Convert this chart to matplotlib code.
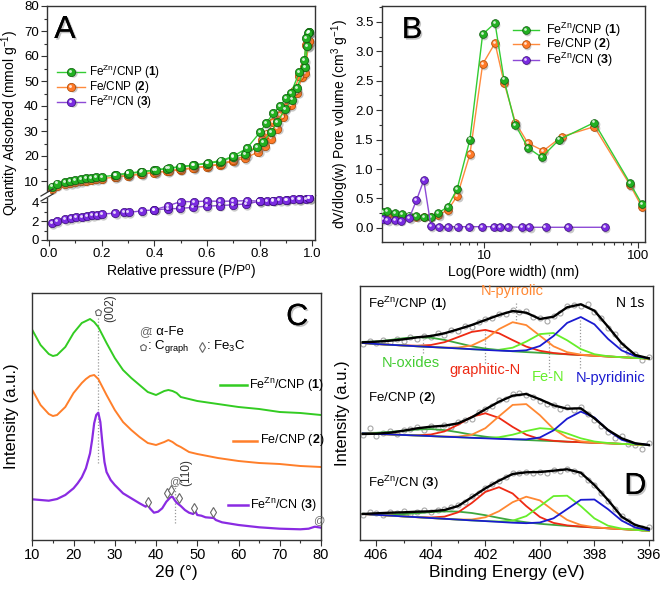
import numpy as np
import matplotlib
matplotlib.use('Agg')
import matplotlib.pyplot as plt
import matplotlib.patheffects as pe
from matplotlib.lines import Line2D
from matplotlib.patches import Rectangle
from matplotlib.transforms import offset_copy
from matplotlib.ticker import MultipleLocator, FormatStrFormatter

plt.rcParams['font.family'] = ['Liberation Sans', 'DejaVu Sans']
plt.rcParams['mathtext.fontset'] = 'custom'
plt.rcParams['mathtext.rm'] = 'Liberation Sans'
plt.rcParams['mathtext.it'] = 'Liberation Sans:italic'
plt.rcParams['mathtext.bf'] = 'Liberation Sans:bold'
plt.rcParams['lines.solid_joinstyle'] = 'round'

# ---------------- A: N2 isotherms ----------------
g_ads_p = [0.01, 0.03, 0.06, 0.08, 0.10, 0.12, 0.14, 0.16, 0.18, 0.20, 0.25, 0.30, 0.35, 0.40, 0.45, 0.50,
           0.55, 0.60, 0.65, 0.70, 0.745, 0.792, 0.815, 0.843, 0.868, 0.897, 0.925, 0.942, 0.973, 0.982, 0.99]
g_ads_v = [7.8, 9.0, 9.6, 10.0, 10.4, 10.8, 11.1, 11.3, 11.6, 11.7, 12.3, 13.0, 13.6, 14.3, 15.0, 15.6,
           16.3, 17.0, 17.8, 19.6, 20.8, 23.5, 25.7, 29.5, 33.5, 38.7, 42.6, 47.1, 55.7, 64.0, 69.5]
g_des_p = [0.99, 0.986, 0.977, 0.971, 0.952, 0.920, 0.901, 0.878, 0.853, 0.825, 0.802, 0.752, 0.70, 0.655,
           0.603, 0.548, 0.497, 0.455, 0.405, 0.352, 0.302, 0.255]
g_des_v = [69.5, 69.3, 67.1, 58.4, 53.7, 45.3, 43.1, 40.0, 37.1, 33.1, 29.5, 23.1, 19.9, 18.2,
           17.2, 16.3, 15.8, 15.1, 14.4, 13.8, 13.1, 12.5]

o_ads_p = [0.01, 0.03, 0.06, 0.08, 0.10, 0.12, 0.14, 0.16, 0.18, 0.20, 0.25, 0.30, 0.35, 0.40, 0.45, 0.50,
           0.55, 0.60, 0.65, 0.70, 0.745, 0.796, 0.82, 0.843, 0.868, 0.891, 0.919, 0.944, 0.961, 0.973, 0.986, 0.99]
o_ads_v = [7.0, 8.2, 8.8, 9.2, 9.6, 9.9, 10.2, 10.5, 10.7, 11.0, 11.5, 12.1, 12.7, 13.3, 13.9, 14.5,
           15.1, 15.8, 16.6, 18.0, 19.1, 21.7, 24.0, 27.0, 31.0, 35.7, 40.4, 45.3, 51.7, 53.1, 64.4, 66.0]
o_des_p = [0.99, 0.977, 0.968, 0.952, 0.93, 0.90, 0.878, 0.853, 0.83, 0.81, 0.75, 0.70, 0.655, 0.603,
           0.548, 0.497, 0.455, 0.405, 0.352, 0.302, 0.255]
o_des_v = [66.0, 64.4, 55.5, 52.0, 46.0, 39.5, 36.5, 33.5, 29.0, 26.5, 20.3, 18.3, 16.9, 16.0,
           15.3, 14.7, 14.1, 13.5, 12.9, 12.3, 11.7]

p_ads_p = [0.01, 0.029, 0.061, 0.083, 0.103, 0.124, 0.143, 0.165, 0.181, 0.20, 0.251, 0.285, 0.302, 0.352,
           0.40, 0.451, 0.498, 0.549, 0.60, 0.65, 0.698, 0.749, 0.80, 0.828, 0.853, 0.876, 0.904, 0.929,
           0.954, 0.977, 0.99]
p_ads_v = [1.80, 2.00, 2.18, 2.31, 2.38, 2.45, 2.52, 2.59, 2.66, 2.73, 2.83, 2.93, 2.90, 3.07,
           3.18, 3.28, 3.32, 3.45, 3.56, 3.63, 3.70, 3.80, 4.07, 4.14, 4.14, 4.20, 4.25, 4.28,
           4.32, 4.35, 4.38]
p_des_p = [0.99, 0.95, 0.90, 0.85, 0.80, 0.751, 0.698, 0.65, 0.60, 0.55, 0.50, 0.451, 0.40]
p_des_v = [4.38, 4.30, 4.22, 4.15, 4.10, 4.14, 4.10, 4.08, 4.10, 4.04, 4.04, 3.60, 3.18]

# ---------------- B: pore size distribution ----------------
g_w = [2.2, 2.36, 2.64, 2.94, 3.27, 3.65, 4.07, 4.53, 5.05, 5.82, 6.7, 8.11, 9.81, 11.8, 13.5, 16.0,
       19.3, 23.7, 30.8, 52, 88.7, 105.7]
g_dv = [0.27, 0.28, 0.25, 0.23, 0.21, 0.20, 0.19, 0.19, 0.25, 0.36, 0.66, 1.50, 3.29, 3.48, 2.52, 1.75,
        1.36, 1.20, 1.50, 1.79, 0.76, 0.41]
o_w = [2.2, 2.36, 2.64, 2.94, 3.27, 3.65, 4.07, 4.53, 5.05, 5.82, 6.7, 8.11, 9.81, 11.8, 13.5, 16.0,
       19.3, 24.3, 32, 52, 88.7, 105.7]
o_dv = [0.22, 0.22, 0.21, 0.20, 0.19, 0.19, 0.19, 0.19, 0.22, 0.30, 0.54, 1.25, 2.78, 3.14, 2.47, 1.79,
        1.44, 1.31, 1.55, 1.72, 0.73, 0.36]
p_w = [2.2, 2.36, 2.64, 2.88, 3.27, 3.65, 4.07, 4.53, 5.13, 5.86, 6.74, 8.03, 9.66, 11.7, 12.7, 14.4,
       17.6, 19.7, 25.1, 35.2, 61.1]
p_dv = [0.15, 0.13, 0.13, 0.12, 0.16, 0.47, 0.81, 0.03, 0.02, 0.02, 0.02, 0.02, 0.02, 0.02, 0.02, 0.02,
        0.01, 0.01, 0.01, 0.01, 0.01]

# ---------------- C: XRD ----------------
xrd_tt = [10, 12, 14, 15, 16, 18, 20, 22, 23, 24, 25, 26, 27, 28, 30, 32, 34, 36, 38, 40, 42, 43, 44, 45,
          46, 48, 50, 55, 60, 65, 70, 75, 80]
xrd_1 = [210, 195, 186, 184, 185, 193, 207, 217, 219, 221, 218, 213, 205, 197, 182, 170, 162, 155, 148, 145,
         149, 150, 149, 147, 143, 141, 139, 136, 133, 131, 128, 127, 125]
xrd_2 = [150, 135, 126, 124, 125, 133, 147, 157, 161, 164, 165, 161, 153, 145, 130, 118, 110, 103, 97, 95,
         98, 100, 98, 95, 93, 88, 86, 82, 79, 77, 76, 74, 73]
xrd3_tt = [10, 12, 14, 16, 18, 20, 21, 22, 23, 24, 24.5, 25, 25.5, 26, 26.5, 27, 27.5, 28, 29, 30, 32, 34, 36,
           37.5, 38, 38.5, 39.5, 40.5, 41.5, 42.5, 43.5, 44, 44.5, 45, 46, 47, 48, 49, 49.5, 50, 51, 52, 54,
           54.5, 56, 60, 65, 70, 75, 77, 78.5, 80]
xrd_3 = [40.7, 40, 39.3, 41, 45, 51.7, 56.7, 62.7, 71.7, 86.7, 100, 116.7, 125, 127.3, 118, 96.7, 78, 68, 60,
         55, 46.7, 41.7, 36.7, 33.3, 35.7, 31.7, 27.3, 28.3, 31.7, 38.3, 42.7, 43.3, 40, 37.3, 34, 30, 27.3,
         26, 29, 25, 24.3, 22.7, 22, 20, 17.7, 15, 12.7, 11.3, 10.7, 11.3, 13.3, 12.3]
fe3c_tt = [38.1, 42.6, 43.6, 45.65, 49.2, 53.9]
fe3c_I = [37.7, 47.3, 50, 41.7, 31.7, 28.3]

# ---------------- D: N 1s XPS (0.5 eV grid 406.5 -> 396.0) ----------------
be = np.arange(406.5, 395.99, -0.5)
be_raw = np.arange(406.5, 395.99, -0.25)

bg1 = [197, 196, 195.2, 194.5, 193.7, 193, 192.3, 191.6, 190.8, 190.1, 189.4, 188.6, 187.9, 187.2, 186.4,
       185.7, 185, 184.3, 183.5, 182.8, 182.1, 181.3]
oxide1 = [1.1, 2.5, 4.8, 7.3, 9.1, 9.3, 7.8, 5.3, 2.9, 1.3, 0.5, 0.1, 0, 0, 0, 0, 0, 0, 0, 0, 0, 0]
graph1 = [0, 0, 0, 0.1, 0.6, 2.0, 5.5, 11.3, 17.3, 20, 17.3, 11.3, 5.5, 2.0, 0.6, 0.1, 0, 0, 0, 0, 0, 0]
pyrr1 = [0, 0, 0, 0, 0, 0, 0.1, 0.9, 3.7, 10.8, 21.5, 29.2, 27.0, 17.1, 7.3, 2.1, 0.4, 0, 0, 0, 0, 0]
fen1 = [0, 0, 0, 0, 0, 0, 0, 0, 0, 0.1, 0.8, 3.7, 10.5, 18.7, 20.6, 14.0, 5.9, 1.5, 0.25, 0, 0, 0]
pyri1 = [0, 0, 0, 0, 0, 0, 0, 0, 0, 0, 0, 0.3, 1.8, 6.8, 17.6, 31.4, 38, 31.4, 17.6, 6.8, 1.8, 0.3]
env1 = [197.7, 198.3, 199.3, 200.7, 202.7, 204, 206.7, 210.7, 215, 220, 225, 229, 227.3, 221, 223.3, 232.7,
        235.7, 229.3, 213.3, 196.7, 185, 181.7]
raw1 = [196, 199.5, 197, 200, 198, 201.5, 199.5, 203.5, 201, 204.5, 203, 207.5, 205, 210, 209, 214.5, 213.5,
        218.5, 221.5, 222, 226.5, 226, 230.5, 228, 229, 223.5, 222, 219.5, 224.5, 227, 234, 235, 234, 236.5,
        228, 222, 212, 206, 195, 188.5, 186.5, 180, 183]

bg2 = [106.7, 106.1, 105.6, 105.0, 104.5, 103.9, 103.3, 102.8, 102.2, 101.7, 101.1, 100.6, 100.0, 99.4, 98.9,
       98.3, 97.8, 97.2, 96.7, 96.1, 95.6, 95.0]
oxide2 = [0.4, 1.1, 2.5, 4.3, 6.0, 7.0, 6.6, 5.0, 3.1, 1.6, 0.7, 0.2, 0, 0, 0, 0, 0, 0, 0, 0, 0, 0]
graph2 = [0, 0, 0, 0, 0.3, 1.6, 5.3, 12.5, 21.0, 25, 21.0, 12.5, 5.3, 1.6, 0.3, 0, 0, 0, 0, 0, 0, 0]
pyrr2 = [0, 0, 0, 0, 0, 0, 0.1, 0.6, 3.1, 10.1, 22.6, 34.5, 35.9, 25.4, 12.2, 4.0, 0.9, 0.1, 0, 0, 0, 0]
fen2 = [0, 0, 0, 0, 0, 0, 0, 0, 0, 0.4, 1.7, 4.7, 9.0, 12.4, 11.9, 8.2, 3.9, 1.3, 0.3, 0, 0, 0]
pyri2 = [0, 0, 0, 0, 0, 0, 0, 0, 0, 0, 0, 0.1, 0.6, 3.1, 10.7, 23.0, 30.6, 25.3, 12.9, 4.1, 0.8, 0.1]
env2 = [106, 106.3, 107.3, 109.3, 111.7, 113.3, 114.3, 116.7, 122.7, 130.7, 138.3, 144.3, 146, 140.7, 134.7,
        131.3, 131.7, 121.7, 110, 101.7, 96.7, 95]
raw2 = [105, 112, 104.5, 107, 109, 106, 110.5, 111, 113.5, 110, 114.5, 112, 115, 113, 118, 120.5, 121, 128.5,
        131, 134, 140, 141, 146, 147.5, 145, 143.5, 139, 136, 135.5, 131.5, 133.5, 130.5, 133, 126, 120, 114,
        108.5, 102, 104, 96, 95.5, 91, 97]

bg3 = [26.0, 25.2, 24.4, 23.6, 22.8, 22.0, 21.2, 20.4, 19.6, 18.9, 18.1, 17.3, 16.5, 15.7, 14.9, 14.1, 13.3,
       12.5, 11.7, 10.9, 10.1, 9.3]
oxide3 = [0.2, 0.5, 1.2, 2.3, 4.0, 5.9, 7.4, 8, 7.4, 5.9, 4.0, 2.3, 1.2, 0.5, 0.2, 0, 0, 0, 0, 0, 0, 0]
graph3 = [0, 0, 0, 0, 0.1, 0.5, 2.2, 7.3, 17.4, 29.2, 34.7, 29.2, 17.4, 7.3, 2.2, 0.5, 0.1, 0, 0, 0, 0, 0]
pyrr3 = [0, 0, 0, 0, 0, 0, 0, 0.1, 0.9, 3.8, 10.7, 20.5, 26.8, 23.9, 14.5, 6.0, 1.7, 0.3, 0, 0, 0, 0]
fen3 = [0, 0, 0, 0, 0, 0, 0, 0, 0, 0, 0.4, 2.0, 7.4, 18.1, 29.0, 30.2, 20.6, 9.1, 2.6, 0.5, 0, 0]
pyri3 = [0, 0, 0, 0, 0, 0, 0, 0, 0, 0, 0, 0, 0.3, 1.8, 6.8, 16.8, 26.9, 28.0, 19.1, 8.5, 2.4, 0.5]
env3 = [26, 26.7, 27.3, 27.7, 28.3, 28.7, 30, 34, 42.7, 51.7, 59.3, 66, 67.7, 68, 69.3, 70.7, 67.3, 55, 40,
        23.3, 15, 11.3]
raw3 = [25.5, 28, 27, 25, 28.5, 27, 29, 26.5, 28, 30, 28, 30.5, 31, 33, 35.5, 38, 44.5, 47, 52, 56, 59, 63.5,
        67.5, 67, 68.5, 67, 68.5, 67.5, 70, 69, 71.5, 69, 66, 60, 55.5, 47, 39.5, 31, 24, 19, 14.5, 12, 13]

labels = [r'Fe$^{\mathregular{Zn}}$/CNP ($\mathbf{1}$)', r'Fe/CNP ($\mathbf{2}$)',
          r'Fe$^{\mathregular{Zn}}$/CN ($\mathbf{3}$)']

# colours
G_FACE, G_EDGE, G_LINE = '#22b022', '#0e5c0e', '#33cc33'
O_FACE, O_EDGE, O_LINE = '#ff7a29', '#a84600', '#ff8a3d'
P_FACE, P_EDGE, P_LINE = '#7a2be0', '#3a0d7a', '#8d4ad6'
FRAME = '#333333'

fig = plt.figure(figsize=(6.61, 5.91), dpi=100)


def box(l, t, r, b):
    return [l / 661, 1 - b / 591, (r - l) / 661, (b - t) / 591]


def balls(ax, x, y, face, edge, ms, z, trans=None):
    base = ax.transData if trans is None else trans
    sh = offset_copy(base, fig=fig, x=1.0, y=-1.2, units='points')
    hl = offset_copy(base, fig=fig, x=-0.8, y=0.8, units='points')
    ax.plot(x, y, 'o', ls='none', ms=ms, mfc='#666666', mec='none', alpha=0.35, transform=sh, zorder=z)
    ax.plot(x, y, 'o', ls='none', ms=ms, mfc=face, mec=edge, mew=0.5, transform=base, zorder=z + 0.1)
    ax.plot(x, y, 'o', ls='none', ms=ms * 0.35, mfc='white', mec='none', alpha=0.8, transform=hl,
            zorder=z + 0.2)


def style(ax, size):
    for s in ax.spines.values():
        s.set_color(FRAME)
        s.set_linewidth(1.0)
    ax.tick_params(which='both', direction='out', color=FRAME, width=0.8, labelsize=size, pad=2)
    ax.tick_params(which='major', length=4)
    ax.tick_params(which='minor', length=2.5)


shadow_fx = [pe.withSimplePatchShadow(offset=(1.2, -1.2), shadow_rgbFace='#888888', alpha=0.5), pe.Normal()]

# ================= Panel A =================
axA = fig.add_axes(box(47, 6, 315, 195))
axA2 = fig.add_axes(box(47, 195, 315, 240))
for ax in (axA, axA2):
    style(ax, 9.5)
    ax.set_xlim(-0.008, 1.011)
axA.set_ylim(4.4, 80)
axA2.set_ylim(0, 4.74)
axA.spines['bottom'].set_visible(False)
axA2.spines['top'].set_visible(False)
axA.tick_params(axis='x', which='both', bottom=False, labelbottom=False)
axA.yaxis.set_major_locator(MultipleLocator(10))
axA.yaxis.set_minor_locator(MultipleLocator(5))
axA2.yaxis.set_major_locator(MultipleLocator(2))
axA2.yaxis.set_minor_locator(MultipleLocator(1))
axA2.xaxis.set_major_locator(MultipleLocator(0.2))
axA2.xaxis.set_minor_locator(MultipleLocator(0.1))
axA2.xaxis.set_major_formatter(FormatStrFormatter('%.1f'))

for px, py in ((o_ads_p, o_ads_v), (o_des_p, o_des_v)):
    axA.plot(px, py, '-', color=O_LINE, lw=1.0, zorder=2)
    balls(axA, px, py, O_FACE, O_EDGE, 6, 2.5)
for px, py in ((g_ads_p, g_ads_v), (g_des_p, g_des_v)):
    axA.plot(px, py, '-', color=G_LINE, lw=1.0, zorder=3)
    balls(axA, px, py, G_FACE, G_EDGE, 6, 3.5)
for px, py in ((p_ads_p, p_ads_v), (p_des_p, p_des_v)):
    axA2.plot(px, py, '-', color=P_LINE, lw=1.0, zorder=2)
    balls(axA2, px, py, P_FACE, P_EDGE, 6, 2.5)

for yy, lab, c in zip([0.652, 0.573, 0.494], labels,
                      [(G_LINE, G_FACE, G_EDGE), (O_LINE, O_FACE, O_EDGE), (P_LINE, P_FACE, P_EDGE)]):
    axA.plot([0.037, 0.142], [yy, yy], '-', color=c[0], lw=1.0, transform=axA.transAxes, zorder=4)
    balls(axA, [0.09], [yy], c[1], c[2], 6, 4.5, trans=axA.transAxes)
    axA.text(0.157, yy, lab, transform=axA.transAxes, fontsize=8.5, va='center', ha='left')
axA.text(0.067, 0.873, 'A', transform=axA.transAxes, fontsize=23, ha='center', va='center',
         path_effects=shadow_fx)

fig.text(10 / 661, 1 - 123 / 591, r'Quantity Adsorbed (mmol g$^{\mathregular{-1}}$)', rotation=90,
         fontsize=10, ha='center', va='center')
axA2.set_xlabel(r'Relative pressure (P/P$^{\mathregular{o}}$)', fontsize=10, labelpad=2)

# axis break marks
fig.add_artist(Rectangle((44 / 661, 1 - 198 / 591), 6 / 661, 6 / 591, transform=fig.transFigure,
                         facecolor='white', edgecolor='none', zorder=10))
for dy in (0, 5):
    fig.add_artist(Line2D([41 / 661, 53 / 661], [1 - (196 + dy) / 591, 1 - (189 + dy) / 591],
                          transform=fig.transFigure, color=FRAME, lw=0.9, zorder=11))

# ================= Panel B =================
axB = fig.add_axes(box(382, 6, 645, 242))
style(axB, 9.5)
axB.set_xscale('log')
axB.set_xlim(2.18, 111)
axB.set_ylim(-0.24, 3.77)
axB.set_xticks([10, 100])
axB.set_xticklabels(['10', '100'])
axB.set_xticks([3, 4, 5, 6, 7, 8, 9, 20, 30, 40, 50, 60, 70, 80, 90], minor=True)
axB.set_xticklabels([], minor=True)
axB.yaxis.set_major_locator(MultipleLocator(0.5))
axB.yaxis.set_minor_locator(MultipleLocator(0.25))
axB.yaxis.set_major_formatter(FormatStrFormatter('%.1f'))

axB.plot(o_w, o_dv, '-', color=O_LINE, lw=1.0, zorder=2)
balls(axB, o_w, o_dv, O_FACE, O_EDGE, 5.6, 2.5)
axB.plot(g_w, g_dv, '-', color=G_LINE, lw=1.0, zorder=3)
balls(axB, g_w, g_dv, G_FACE, G_EDGE, 5.6, 3.5)
axB.plot(p_w, p_dv, '-', color=P_LINE, lw=1.0, zorder=4)
balls(axB, p_w, p_dv, P_FACE, P_EDGE, 5.6, 4.5)

for yy, lab, c in zip([0.898, 0.838, 0.772], labels,
                      [(G_LINE, G_FACE, G_EDGE), (O_LINE, O_FACE, O_EDGE), (P_LINE, P_FACE, P_EDGE)]):
    axB.plot([0.497, 0.598], [yy, yy], '-', color=c[0], lw=1.0, transform=axB.transAxes, zorder=5)
    balls(axB, [0.547], [yy], c[1], c[2], 5.6, 5.5, trans=axB.transAxes)
    axB.text(0.622, yy, lab, transform=axB.transAxes, fontsize=9, va='center', ha='left')
axB.text(0.114, 0.898, 'B', transform=axB.transAxes, fontsize=22, ha='center', va='center',
         path_effects=shadow_fx)
axB.set_ylabel(r'dV/dlog(w) Pore volume (cm$^{\mathregular{3}}$ g$^{\mathregular{-1}}$)', fontsize=10)
axB.yaxis.set_label_coords(-0.118, 0.5)
axB.set_xlabel('Log(Pore width) (nm)', fontsize=10, labelpad=2)

# ================= Panel C =================
axC = fig.add_axes(box(32.3, 293, 321, 540))
style(axC, 10.5)
axC.set_xlim(10, 80)
axC.set_ylim(0, 247)
axC.set_yticks([])
axC.xaxis.set_major_locator(MultipleLocator(10))
axC.xaxis.set_minor_locator(MultipleLocator(5))

X_G, X_O, X_P = '#33cc22', '#ff7f2a', '#8a2be2'
axC.plot([25.85, 25.85], [77, 223], ls=(0, (1, 1.5)), color='#999999', lw=0.9, zorder=1)
axC.plot([44.6, 44.6], [16.7, 55], ls=(0, (1, 1.5)), color='#999999', lw=0.9, zorder=1)
axC.plot(xrd_tt, xrd_1, color=X_G, lw=1.4, zorder=2)
axC.plot(xrd_tt, xrd_2, color=X_O, lw=1.4, zorder=2)
axC.plot(xrd3_tt, xrd_3, color=X_P, lw=1.6, zorder=2)

axC.plot([25.85], [228.3], 'p', ms=5, mfc='white', mec='#666666', mew=0.8, zorder=3)
axC.text(28.8, 231.7, '(002)', rotation=90, fontsize=8.5, ha='center', va='center', color='#333333')
axC.plot(fe3c_tt, fe3c_I, 'd', ms=5, mfc='white', mec='#666666', mew=0.8, zorder=3)
axC.text(44.6, 59.3, '@', fontsize=8, ha='center', va='center', color='#666666')
axC.text(79.4, 20, '@', fontsize=8, ha='center', va='center', color='#666666')
axC.text(47.3, 67, '(110)', rotation=90, fontsize=8.5, ha='center', va='center', color='#333333')

axC.text(35.9, 208.3, '@', fontsize=8.5, ha='left', va='center', color='#666666')
axC.text(38.4, 208.3, ': \u03b1-Fe', fontsize=9.5, ha='left', va='center')
axC.plot([36.8], [193.3], 'p', ms=5, mfc='white', mec='#666666', mew=0.8)
axC.text(37.9, 193.3, r': C$_{\mathregular{graph}}$', fontsize=9.5, ha='left', va='center')
axC.plot([51.2], [193.3], 'd', ms=5, mfc='white', mec='#666666', mew=0.8)
axC.text(52.0, 193.3, r': Fe$_{\mathregular{3}}$C', fontsize=9.5, ha='left', va='center')

for (x0, x1, xt), yy, lab, c in zip([(55.5, 62.0, 62.6), (58.7, 64.4, 65.2), (57.5, 62.4, 62.9)],
                                    [155, 99.5, 35], labels, [X_G, X_O, X_P]):
    axC.plot([x0, x1], [yy, yy], color=c, lw=1.8)
    axC.text(xt, yy, lab, fontsize=9, ha='left', va='center')
axC.text(74.2, 223, 'C', fontsize=22, ha='center', va='center', path_effects=shadow_fx)
axC.set_ylabel('Intensity (a.u.)', fontsize=12)
axC.yaxis.set_label_coords(-0.045, 0.5)
axC.set_xlabel('2\u03b8 (\u00b0)', fontsize=12.5, labelpad=2)

# ================= Panel D =================
axD = fig.add_axes(box(360, 286, 653, 540))
style(axD, 10.5)
axD.set_xlim(406.6, 395.85)
axD.set_ylim(0, 254)
axD.set_yticks([])
axD.xaxis.set_major_locator(MultipleLocator(2))
axD.xaxis.set_minor_locator(MultipleLocator(1))

C_OX, C_GR, C_PY, C_FE, C_PD = '#3ea83e', '#ee2a14', '#ff8833', '#66ee2a', '#1a1ad0'
spectra = [(bg1, oxide1, graph1, pyrr1, fen1, pyri1, env1, raw1),
           (bg2, oxide2, graph2, pyrr2, fen2, pyri2, env2, raw2),
           (bg3, oxide3, graph3, pyrr3, fen3, pyri3, env3, raw3)]
for bg, ox, gr, py, fe, pd_, env, raw in spectra:
    axD.plot(be_raw, raw, 'o', ls='none', ms=3.6, mfc='none', mec='#a8a8a8', mew=0.8, zorder=1)
    for comp, c in zip((ox, gr, py, fe, pd_), (C_OX, C_GR, C_PY, C_FE, C_PD)):
        axD.plot(be, np.array(bg) + np.array(comp), color=c, lw=1.3, zorder=2)
    axD.plot(be, env, color='black', lw=1.7, zorder=3)

for xb, y0, y1 in [(404.3, 186.7, 200), (402.03, 176.7, 209.3), (400.87, 216.7, 237.3),
                   (399.68, 166.7, 206.7), (398.54, 171.7, 221.7)]:
    axD.plot([xb, xb], [y0, y1], ls=(0, (1, 1.5)), color='#999999', lw=0.9, zorder=0.5)

axD.text(406.3, 236, labels[0], fontsize=9.5, ha='left', va='center')
axD.text(406.3, 141.7, labels[1], fontsize=9.5, ha='left', va='center')
axD.text(406.3, 57.3, labels[2], fontsize=9.5, ha='left', va='center')
axD.text(396.16, 236.7, 'N 1s', fontsize=10, ha='right', va='center')
axD.text(401.0, 249, 'N-pyrrolic', fontsize=10.5, ha='center', va='center', color=C_PY, clip_on=False)
axD.text(404.75, 176.7, 'N-oxides', fontsize=10.5, ha='center', va='center', color='#44cc33')
axD.text(402.0, 170, 'graphitic-N', fontsize=10.5, ha='center', va='center', color=C_GR)
axD.text(399.7, 162.7, 'Fe-N', fontsize=10.5, ha='center', va='center', color=C_FE)
axD.text(397.4, 161.7, 'N-pyridinic', fontsize=10.5, ha='center', va='center', color=C_PD)
axD.text(396.5, 54, 'D', fontsize=22, ha='center', va='center', path_effects=shadow_fx)
axD.set_ylabel('Intensity (a.u.)', fontsize=12)
axD.yaxis.set_label_coords(-0.034, 0.5)
axD.set_xlabel('Binding Energy (eV)', fontsize=12.5, labelpad=2)

fig.savefig('out.png', dpi=100)
